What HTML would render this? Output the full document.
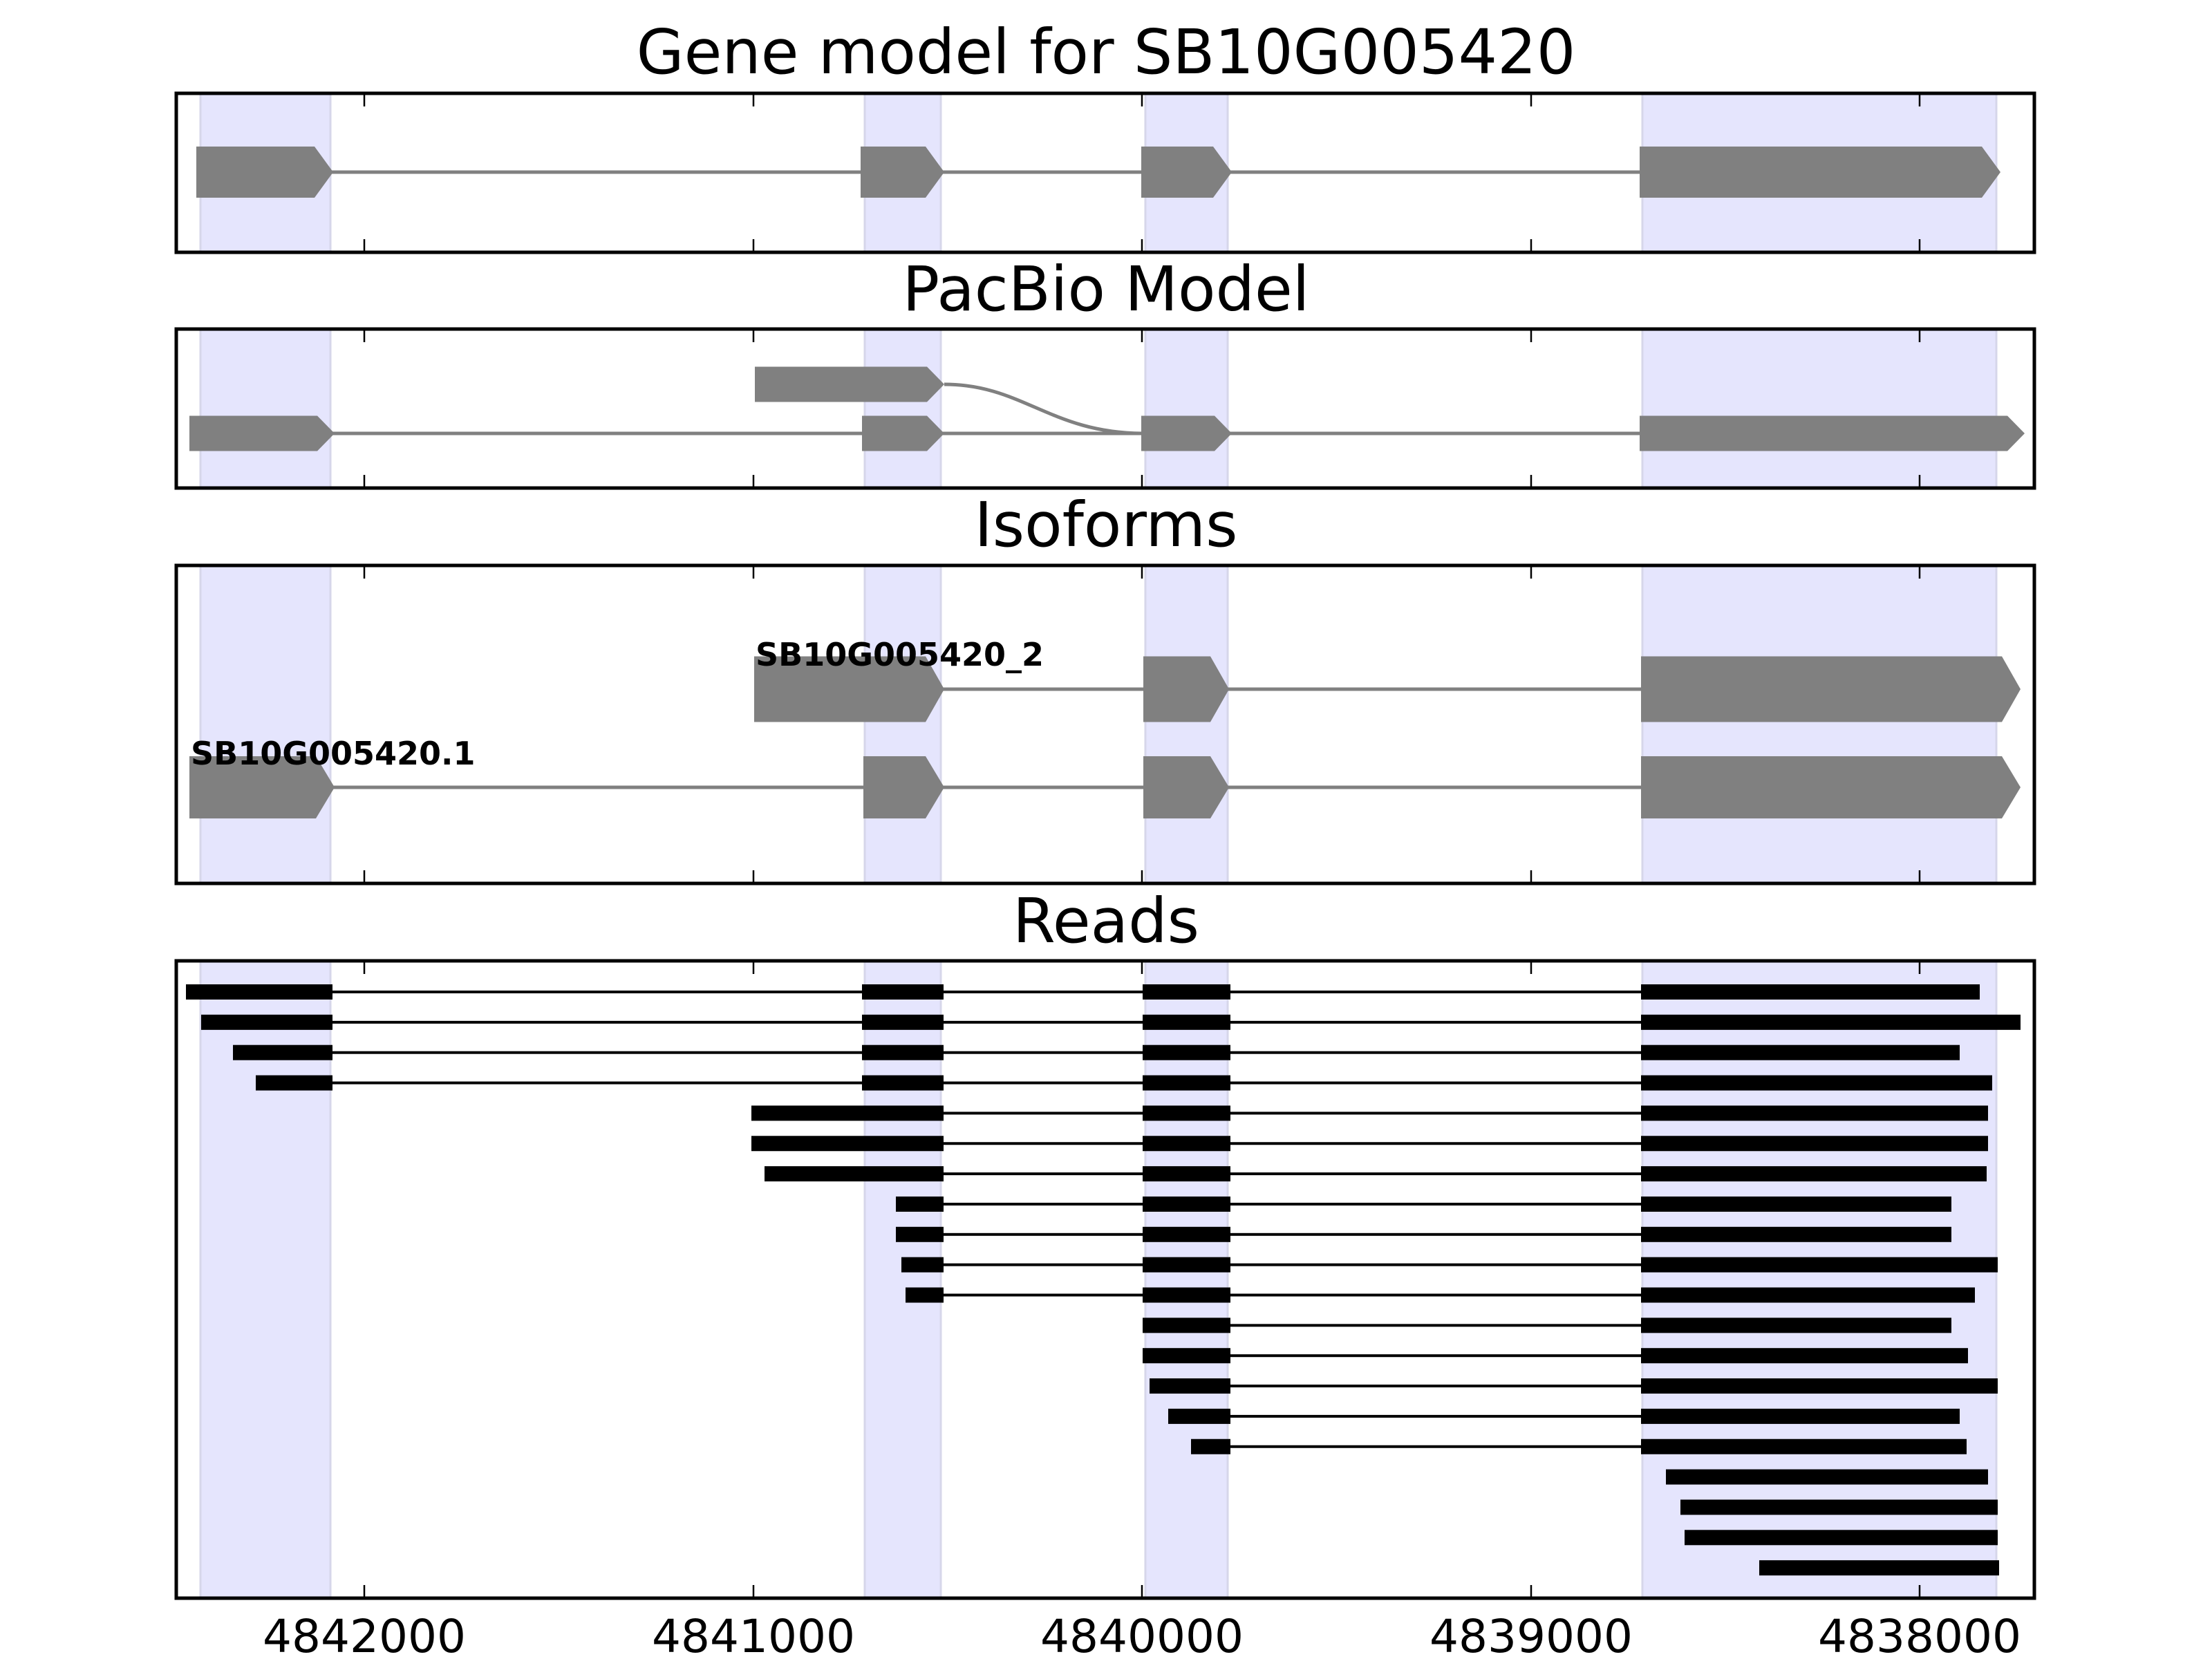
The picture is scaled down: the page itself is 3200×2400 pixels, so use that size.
<!DOCTYPE html>
<html><head><meta charset="utf-8"><style>
html,body{margin:0;padding:0;background:#fff;}
svg{display:block;}
text{font-family:"DejaVu Sans","Liberation Sans",sans-serif;}
</style></head><body>
<svg id="s" width="3200" height="2400" viewBox="0 0 3200 2400" xmlns="http://www.w3.org/2000/svg">
<rect width="3200" height="2400" fill="#fff"/>
<g id="shades"></g>
<g id="shapes"></g>
<g id="frames" fill="none" stroke="#000" stroke-width="5"></g>
<text x="1600" y="106" font-size="89" text-anchor="middle">Gene model for SB10G005420</text>
<text x="1600" y="449" font-size="89" text-anchor="middle">PacBio Model</text>
<text x="1600" y="790" font-size="89" text-anchor="middle">Isoforms</text>
<text x="1600" y="1363" font-size="89" text-anchor="middle">Reads</text>
<text x="1093" y="963" font-size="46" font-weight="bold">SB10G005420_2</text>
<text x="276" y="1106" font-size="46" font-weight="bold">SB10G005420.1</text>
<g font-size="66" text-anchor="middle">
<text x="527" y="2390">4842000</text>
<text x="1090" y="2390">4841000</text>
<text x="1652" y="2390">4840000</text>
<text x="2215" y="2390">4839000</text>
<text x="2777" y="2390">4838000</text>
</g>
</svg>
<script>
var NS="http://www.w3.org/2000/svg";
function el(p,t,a){var e=document.createElementNS(NS,t);for(var k in a)e.setAttribute(k,a[k]);document.getElementById(p).appendChild(e);return e;}
var panels=[[135,365],[476,706],[818,1278],[1390,2312]];
var shades=[[290,478],[1251,1361],[1657,1776],[2376,2888]];
var ticks=[527,1090,1652,2215,2777];
panels.forEach(function(p){
  shades.forEach(function(s){el("shades","rect",{x:s[0],y:p[0],width:s[1]-s[0],height:p[1]-p[0],fill:"#e5e5fd",stroke:"#d6d6ea","stroke-width":3});});
  el("frames","rect",{x:255,y:p[0],width:2688,height:p[1]-p[0]});
  ticks.forEach(function(t){
    el("frames","line",{x1:t,x2:t,y1:p[0],y2:p[0]+19,"stroke-width":2.5});
    el("frames","line",{x1:t,x2:t,y1:p[1],y2:p[1]-19,"stroke-width":2.5});
  });
});
var G="#808080";
function arrow(x0,x1,cy,h,tip){
  var t=x1-tip;
  el("shapes","polygon",{points:x0+","+(cy-h/2)+" "+t+","+(cy-h/2)+" "+x1+","+cy+" "+t+","+(cy+h/2)+" "+x0+","+(cy+h/2),fill:G});
}
function gline(x0,x1,cy){el("shapes","rect",{x:x0,y:cy-2.5,width:x1-x0,height:5,fill:G});}
gline(470,2880,249);
arrow(284,482,249,74,27);arrow(1245,1366,249,74,27);arrow(1651,1782,249,74,27);arrow(2372,2894,249,74,27);
gline(470,2910,627);
arrow(274,484,627,51,25);arrow(1247,1366,627,51,25);arrow(1651,1782,627,51,25);arrow(2372,2929,627,51,25);
arrow(1092,1366,556,51,25);
el("shapes","path",{d:"M1366,556 C1480,556 1520,627 1655,627",fill:"none",stroke:G,"stroke-width":5});
gline(1340,2900,997);
arrow(1091,1366,997,95,27);arrow(1654,1778,997,95,27);arrow(2374,2923,997,95,27);
gline(470,2900,1139);
arrow(274,484,1139,90,27);arrow(1249,1366,1139,90,27);arrow(1654,1778,1139,90,27);arrow(2374,2923,1139,90,27);
var E1=481,E2a=1247,E2=1365,E3a=1653,E3=1780,E4=2374;
var rows=[
[[269,E1],[E2a,E2],[E3a,E3],[E4,2864]],
[[291,E1],[E2a,E2],[E3a,E3],[E4,2923]],
[[337,E1],[E2a,E2],[E3a,E3],[E4,2835]],
[[370,E1],[E2a,E2],[E3a,E3],[E4,2882]],
[[1087,E2],[E3a,E3],[E4,2876]],
[[1087,E2],[E3a,E3],[E4,2876]],
[[1106,E2],[E3a,E3],[E4,2874]],
[[1296,E2],[E3a,E3],[E4,2823]],
[[1296,E2],[E3a,E3],[E4,2823]],
[[1304,E2],[E3a,E3],[E4,2890]],
[[1310,E2],[E3a,E3],[E4,2857]],
[[E3a,E3],[E4,2823]],
[[E3a,E3],[E4,2847]],
[[1663,E3],[E4,2890]],
[[1690,E3],[E4,2835]],
[[1723,E3],[E4,2845]],
[[2410,2876]],
[[2431,2890]],
[[2437,2890]],
[[2545,2892]]
];
rows.forEach(function(r,i){
  var y=1435+43.85*i;
  var a=r[0][0],b=r[r.length-1][1];
  el("shapes","rect",{x:a,y:y-2,width:b-a,height:4,fill:"#000"});
  r.forEach(function(s){el("shapes","rect",{x:s[0],y:y-11,width:s[1]-s[0],height:22,fill:"#000"});});
});
</script>
</body></html>
